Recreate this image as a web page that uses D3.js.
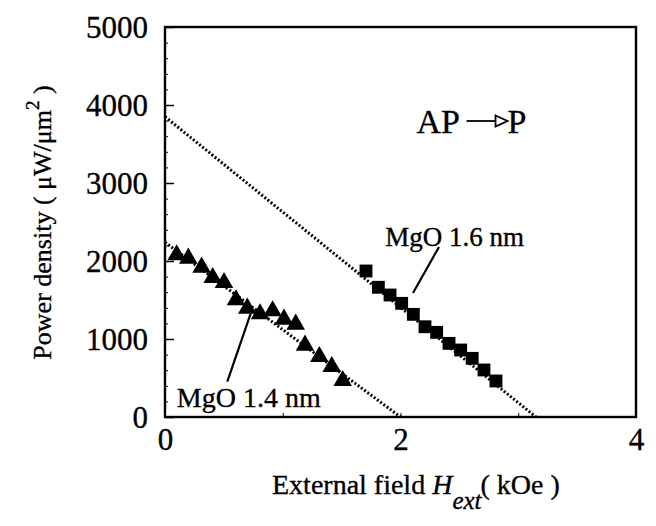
<!DOCTYPE html>
<html>
<head>
<meta charset="utf-8">
<script src="https://cdn.jsdelivr.net/npm/d3@7"></script>
<style>
  html, body { margin: 0; padding: 0; background: #fff; }
  svg { display: block; }
  text { font-family: "Liberation Serif", "DejaVu Serif", serif; fill: #000; stroke: #000; stroke-width: 0.35; }
</style>
</head>
<body>
<svg id="chart" width="656" height="526"></svg>
<script>
// Switching power density vs external field, AP -> P
const fieldMgO16 = [1.707, 1.812, 1.911, 2.010, 2.109, 2.208, 2.307, 2.412, 2.511, 2.609, 2.709, 2.811];
const powerMgO16 = [1872, 1663, 1564, 1457, 1316, 1157, 1085, 944, 859, 752, 603, 462];

const fieldMgO14 = [0.099, 0.198, 0.311, 0.405, 0.501, 0.603, 0.699, 0.807, 0.914, 1.010, 1.110, 1.189, 1.311, 1.416, 1.509];
const powerMgO14 = [2077, 2034, 1919, 1786, 1722, 1500, 1393, 1321, 1359, 1252, 1188, 919, 773, 645, 465];

// Linear guide lines: [field, power] end points
const fitMgO16 = [[0, 3850], [3.15, 0]];
const fitMgO14 = [[0, 2240], [2.0, 0]];

const xTicks = [0, 2, 4];
const xMinorTicks = [1, 2, 3];
const yTicks = [0, 1000, 2000, 3000, 4000, 5000];
const yMinorTicks = d3.range(0, 5001, 200);

const svg = d3.select("#chart");
const margin = { left: 165, top: 27, right: 20, bottom: 109 };
const W = 656, H = 526;

const x = d3.scaleLinear().domain([0, 4]).range([margin.left, W - margin.right]);
const y = d3.scaleLinear().domain([0, 5000]).range([H - margin.bottom, margin.top]);

// minor ticks on the left axis
svg.append("g")
  .attr("transform", `translate(${x(0)},0)`)
  .call(d3.axisRight(y).tickValues(yMinorTicks).tickSize(3).tickFormat(""))
  .call(g => g.select(".domain").remove())
  .call(g => g.selectAll("line").attr("stroke", "#000").attr("stroke-width", 1));

// major ticks and labels on the left axis
svg.append("g")
  .attr("transform", `translate(${x(0)},0)`)
  .call(d3.axisLeft(y).tickValues(yTicks).tickSize(0).tickPadding(17).tickFormat(d3.format("d")))
  .call(g => g.select(".domain").remove())
  .call(g => g.selectAll("text").attr("font-size", 31).attr("dy", "0.35em"));
svg.append("g")
  .attr("transform", `translate(${x(0)},0)`)
  .call(d3.axisRight(y).tickValues(yTicks).tickSize(9).tickFormat(""))
  .call(g => g.select(".domain").remove())
  .call(g => g.selectAll("line").attr("stroke", "#000").attr("stroke-width", 1.5));

// bottom axis
svg.append("g")
  .attr("transform", `translate(0,${y(0)})`)
  .call(d3.axisTop(x).tickValues(xMinorTicks).tickSize(4).tickFormat(""))
  .call(g => g.select(".domain").remove())
  .call(g => g.selectAll("line").attr("stroke", "#000").attr("stroke-width", 1));
svg.append("g")
  .attr("transform", `translate(0,${y(0)})`)
  .call(d3.axisBottom(x).tickValues(xTicks).tickSize(0).tickPadding(11).tickFormat(d3.format("d")))
  .call(g => g.select(".domain").remove())
  .call(g => g.selectAll("text").attr("font-size", 31).attr("dy", "0.71em"));

// plot frame
svg.append("rect")
  .attr("x", x(0)).attr("y", y(5000))
  .attr("width", x(4) - x(0)).attr("height", y(0) - y(5000))
  .attr("fill", "none").attr("stroke", "#000").attr("stroke-width", 2.4);

// dotted guide lines
const line = d3.line().x(d => x(d[0])).y(d => y(d[1]));
[fitMgO16, fitMgO14].forEach(fit => {
  svg.append("path")
    .attr("d", line(fit))
    .attr("fill", "none").attr("stroke", "#000")
    .attr("stroke-width", 3).attr("stroke-dasharray", "2,2");
});

// data markers
const square = d3.symbol().type(d3.symbolSquare).size(165);
const triangle = d3.symbol().type(d3.symbolTriangle).size(150);

svg.append("g").selectAll("path")
  .data(fieldMgO16.map((f, i) => [f, powerMgO16[i]]))
  .join("path")
  .attr("d", square)
  .attr("transform", d => `translate(${x(d[0])},${y(d[1])})`)
  .attr("fill", "#000");

svg.append("g").selectAll("path")
  .data(fieldMgO14.map((f, i) => [f, powerMgO14[i]]))
  .join("path")
  .attr("d", triangle)
  .attr("transform", d => `translate(${x(d[0])},${y(d[1])})`)
  .attr("fill", "#000");

// sample annotations with leader lines
svg.append("text").attr("x", x(1.87)).attr("y", y(2192)).attr("font-size", 27).text("MgO 1.6 nm");
svg.append("line")
  .attr("x1", x(2.327)).attr("y1", y(2180)).attr("x2", x(2.106)).attr("y2", y(1590))
  .attr("stroke", "#000").attr("stroke-width", 2.2);

svg.append("text").attr("x", x(0.1)).attr("y", y(132)).attr("font-size", 28).text("MgO 1.4 nm");
svg.append("line")
  .attr("x1", x(0.529)).attr("y1", y(453)).attr("x2", x(0.728)).attr("y2", y(1329))
  .attr("stroke", "#000").attr("stroke-width", 2.2);

// switching direction AP -> P
const apX = x(2.136), apY = y(3641);
svg.append("text").attr("x", apX).attr("y", apY).attr("font-size", 34).text("AP");
svg.append("line")
  .attr("x1", apX + 50).attr("y1", apY - 12).attr("x2", apX + 80).attr("y2", apY - 12)
  .attr("stroke", "#000").attr("stroke-width", 1.8);
svg.append("path")
  .attr("d", `M${apX + 79},${apY - 17.5} L${apX + 91},${apY - 12} L${apX + 79},${apY - 6.5} Z`)
  .attr("fill", "#fff").attr("stroke", "#000").attr("stroke-width", 1.8);
svg.append("text").attr("x", apX + 91).attr("y", apY).attr("font-size", 34).text("P");

// axis titles
const yTitle = svg.append("text")
  .attr("transform", `translate(51,${(83 + 362) / 2}) rotate(-90)`)
  .attr("text-anchor", "middle").attr("font-size", 26);
yTitle.append("tspan").text("Power density ( \u03bcW/\u03bcm");
yTitle.append("tspan").attr("font-size", 19).attr("dy", -12).text("2");
yTitle.append("tspan").attr("dy", 12).text(" )");

const xTitle = svg.append("text")
  .attr("x", 272).attr("y", 494)
  .attr("font-size", 28);
xTitle.append("tspan").text("External field ");
xTitle.append("tspan").attr("font-style", "italic").text("H");
xTitle.append("tspan").attr("font-style", "italic").attr("font-size", 25).attr("dy", 15).text("ext");
xTitle.append("tspan").attr("dy", -15).attr("dx", -1).text("( kOe )");
</script>
</body>
</html>
